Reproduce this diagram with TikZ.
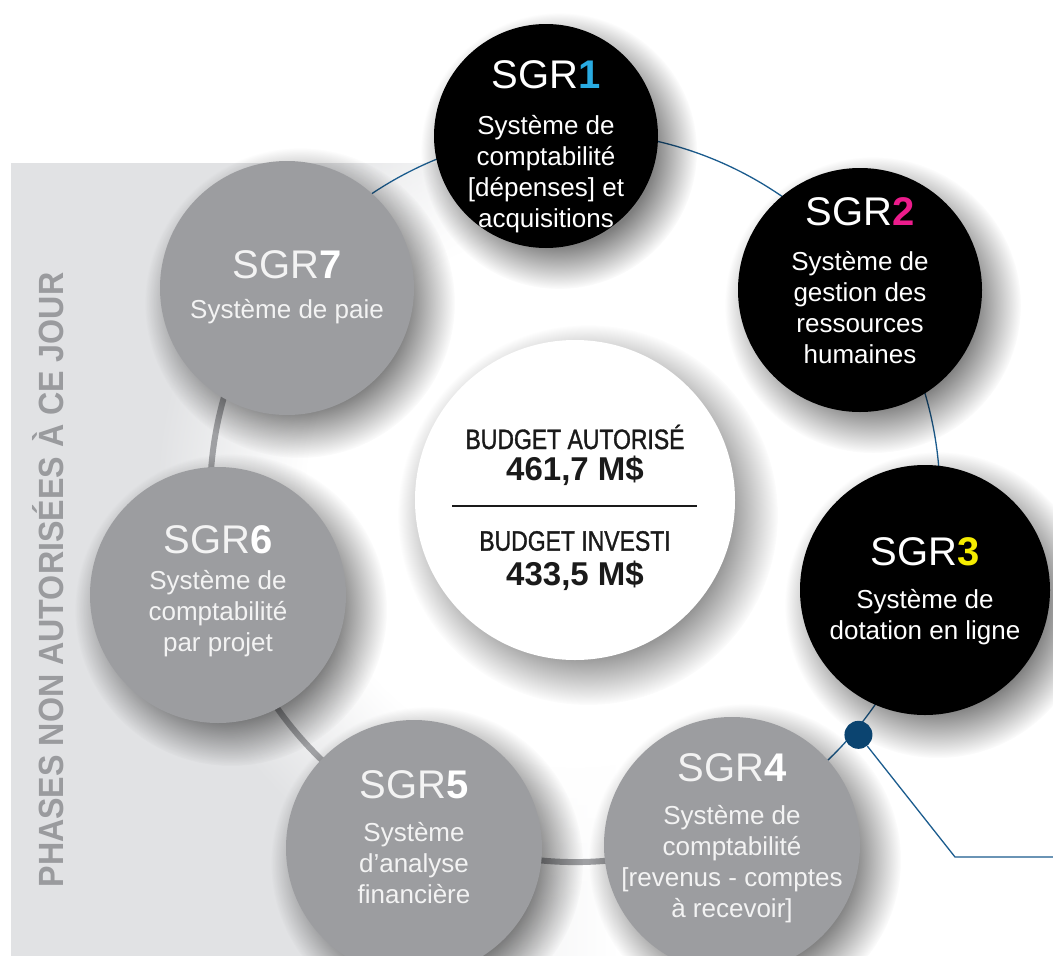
\documentclass[tikz,border=0pt]{standalone}
\usepackage{fontspec}
\setmainfont{Liberation Sans}
\newfontfamily\condfont{Liberation Sans}[FakeStretch=0.82, FakeBold=1.2]
\newfontfamily\labfont{Liberation Sans}[FakeStretch=0.92]
\usetikzlibrary{fadings,calc}
\definecolor{panel}{HTML}{E1E2E4}
\definecolor{circgrey}{HTML}{9C9DA0}
\definecolor{ringgrey}{HTML}{9FA0A3}
\definecolor{ringblue}{HTML}{1B5C8E}
\definecolor{dotblue}{HTML}{0B4470}
\definecolor{sgrcyan}{HTML}{29ABE2}
\definecolor{sgrmag}{HTML}{EC1C8C}
\definecolor{sgryel}{HTML}{F5EC00}
\definecolor{softwhite}{HTML}{F3F3F3}
\definecolor{labgrey}{HTML}{9A9B9E}
\definecolor{ink}{HTML}{1A1A1A}
% fadings: path bounding box maps to 25bp..75bp, i.e. radius 25bp = path radius
\pgfdeclareradialshading{glowsh}{\pgfpointorigin}{color(0bp)=(white); color(16bp)=(white); color(25bp)=(black); color(50bp)=(black)}
\pgfdeclarefading{glowfade}{\pgfuseshading{glowsh}}
\pgfdeclareradialshading{shadowsh}{\pgfpointorigin}{color(0bp)=(white); color(17bp)=(white); color(25bp)=(black); color(50bp)=(black)}
\pgfdeclarefading{shadowfade}{\pgfuseshading{shadowsh}}
\tikzset{
  blackdisc/.style={circle, fill=black, minimum size=#1, inner sep=0pt},
  greydisc/.style={circle, fill=circgrey, minimum size=#1, inner sep=0pt},
  whitedisc/.style={circle, fill=white, minimum size=#1, inner sep=0pt},
  softshadow/.style={fill=black, fill opacity=0.5, path fading=shadowfade},
  ttl/.style={font=\fontsize{40}{44}\selectfont, inner sep=0pt},
  body/.style={font=\fontsize{26}{31}\selectfont, align=center, inner sep=0pt},
  greyring/.style={draw=ringgrey, line width=6pt},
  bluering/.style={draw=ringblue, line width=1.3pt},
  bluedot/.style={circle, fill=dotblue, minimum size=28pt, inner sep=0pt},
  caps/.style={font=\condfont\fontsize{28}{30}\selectfont, text=ink, inner sep=0pt},
  nums/.style={font=\bfseries\fontsize{33}{36}\selectfont, text=ink, inner sep=0pt},
}
\newcommand{\discshadow}[3]{\fill[softshadow] ($(#1)+(13,15)$) circle[radius=#2+#3];}
\begin{document}
\begin{tikzpicture}[x=1pt,y=-1pt]
\useasboundingbox (0,0) rectangle (1053,956);
\fill[white] (0,0) rectangle (1053,956);
% background panel and glow
\fill[panel] (11,163) rectangle (340,956);
\shade[left color=panel,right color=white] (339,163) rectangle (620,956);
\fill[white,path fading=glowfade] (575,497) circle[radius=420];

% ring
\coordinate (C) at (575,497);
\path (C) ++(265:365) coordinate (r1);
\path (C) ++(65.9:365) coordinate (r4);
\path (C) ++(216.5:365) coordinate (r7);
\path (C) ++(40:370) coordinate (dp);
\draw[greyring] (r4) arc[start angle=65.9, end angle=216.5, radius=365];
\draw[bluering] (r7) arc[start angle=216.5, end angle=425.9, radius=365];

% circle centres
\coordinate (p1) at (546,136);
\coordinate (p2) at (860,290);
\coordinate (p3) at (925,590);
\coordinate (p4) at (732,845);
\coordinate (p5) at (414,848);
\coordinate (p6) at (218,595);
\coordinate (p7) at (287,288);
\coordinate (pc) at (575,500);

% shadows
\discshadow{p1}{112}{26}
\discshadow{p2}{122}{26}
\discshadow{p3}{125}{28}
\discshadow{p4}{128}{28}
\discshadow{p5}{128}{28}
\discshadow{p6}{128}{28}
\discshadow{p7}{127}{28}
\discshadow{pc}{160}{30}

% circles
\node[blackdisc=224pt] (s1) at (p1) {};
\node[blackdisc=244pt] (s2) at (p2) {};
\node[blackdisc=250pt] (s3) at (p3) {};
\node[greydisc=256pt] (s4) at (p4) {};
\node[greydisc=256pt] (s5) at (p5) {};
\node[greydisc=256pt] (s6) at (p6) {};
\node[greydisc=254pt] (s7) at (p7) {};
\node[whitedisc=320pt] (cen) at (pc) {};

% dot and leader
\node[bluedot] (dot) at (dp) {};
\coordinate (lk) at (955,857);
\coordinate (le) at (1053,857);
\draw[bluering] (dot) -- (lk) -- (le);

% texts
\node[ttl, text=white] (t1) at (546,75) {SGR\textcolor{sgrcyan}{\bfseries 1}};
\node[body, text=white] (b1) at (546,174) {Système de\\comptabilité\\{}[dépenses] et\\acquisitions};
\node[ttl, text=white] (t2) at (860,212) {SGR\textcolor{sgrmag}{\bfseries 2}};
\node[body, text=white] (b2) at (860,308) {Système de\\gestion des\\ressources\\humaines};
\node[ttl, text=white] (t3) at (925,552) {SGR\textcolor{sgryel}{\bfseries 3}};
\node[body, text=white] (b3) at (925,617) {Système de\\dotation en ligne};
\node[ttl, text=softwhite] (t4) at (732,768) {SGR\textcolor{white}{\bfseries 4}};
\node[body, text=softwhite] (b4) at (732,864) {Système de\\comptabilité\\{}[revenus - comptes\\à recevoir]};
\node[ttl, text=softwhite] (t5) at (414,785) {SGR\textcolor{white}{\bfseries 5}};
\node[body, text=softwhite] (b5) at (414,863) {Système\\d’analyse\\financière};
\node[ttl, text=softwhite] (t6) at (218,540) {SGR\textcolor{white}{\bfseries 6}};
\node[body, text=softwhite] (b6) at (218,614) {Système de\\comptabilité\\par projet};
\node[ttl, text=softwhite] (t7) at (287,265) {SGR\textcolor{white}{\bfseries 7}};
\node[body, text=softwhite] (b7) at (287,312) {Système de paie};

% centre
\node[caps] (ca) at (575,437) {BUDGET AUTORISÉ};
\node[nums] (na) at (575,471) {461,7 M\$};
\coordinate (ll) at (452,506);
\coordinate (lr) at (697,506);
\draw[ink, line width=2pt] (ll) -- (lr);
\node[caps] (ci) at (575,541) {BUDGET INVESTI};
\node[nums] (ni) at (575,576) {433,5 M\$};

% vertical label
\node[rotate=90, text=labgrey, font=\labfont\bfseries\fontsize{35}{36}\selectfont, inner sep=0pt] (lab) at (48,580) {PHASES NON AUTORISÉES À CE JOUR};
\end{tikzpicture}
\end{document}
